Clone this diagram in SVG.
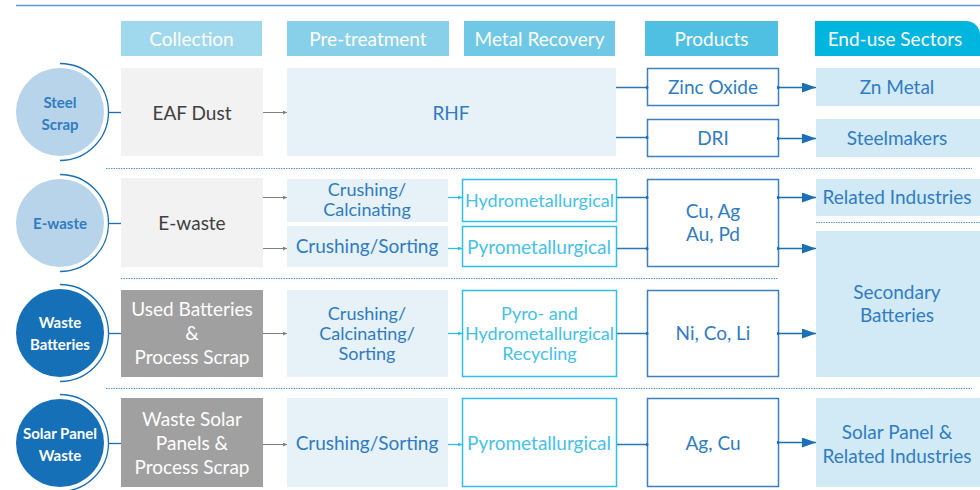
<svg xmlns="http://www.w3.org/2000/svg" width="980" height="490" viewBox="0 0 980 490">
  <defs>
    <style>
      text { font-family: Lato, "Noto Sans", "Liberation Sans", sans-serif; text-anchor: middle; }
      .hdr { fill: #ffffff; font-size: 19px; }
      .body { font-size: 19px; }
      .tight { font-size: 18px; }
      .dark { fill: #404040; }
      .white { fill: #ffffff; }
      .blue { fill: #2f7cc2; }
      .cyan { fill: #45c1ea; }
      .circ { font-size: 15px; font-weight: bold; }
      .sep { stroke: #5b9bd5; stroke-width: 1; stroke-dasharray: 1.5 1; fill: none; }
      .grey-box { fill: #f2f2f2; }
      .mid-box { fill: #a0a0a0; }
      .pale-box { fill: #e6f1f8; }
      .end-box { fill: #d2e9f6; }
      .metal-box { fill: #ffffff; stroke: #2ec0ea; stroke-width: 1.5; }
      .prod-box { fill: #ffffff; stroke: #3a7fc2; stroke-width: 1.5; }
      .arc { fill: none; stroke: #1a6fb5; stroke-width: 1.3; }
      .c-light { fill: #b8d4ea; }
      .c-dark { fill: #1570b8; }
      .ln-grey { stroke: #808080; stroke-width: 1; marker-end: url(#tipGrey); }
      .ln-cyan { stroke: #2fbce6; stroke-width: 1.3; marker-end: url(#tipCyan); }
      .ln-blue { stroke: #2e75b6; stroke-width: 1.5; marker-end: url(#dotBlue); }
      .ln-out { stroke: #1a6fb5; stroke-width: 1.5; marker-start: url(#dotBlue); marker-end: url(#headBlue); }
      .ln-stub { stroke: #1a6fb5; stroke-width: 1.3; }
    </style>
    <marker id="tipGrey" viewBox="0 0 4 4" refX="4" refY="2" markerWidth="4" markerHeight="4" markerUnits="userSpaceOnUse" orient="auto">
      <path d="M0,0 L4,2 L0,4 Z" fill="#808080"/>
    </marker>
    <marker id="tipCyan" viewBox="0 0 4 4" refX="4" refY="2" markerWidth="4" markerHeight="4" markerUnits="userSpaceOnUse" orient="auto">
      <path d="M0,0 L4,2 L0,4 Z" fill="#2fbce6"/>
    </marker>
    <marker id="dotBlue" viewBox="0 0 4 4" refX="2" refY="2" markerWidth="3" markerHeight="3" markerUnits="userSpaceOnUse">
      <circle cx="2" cy="2" r="2" fill="#1a6fb5"/>
    </marker>
    <marker id="headBlue" viewBox="0 0 14 10" refX="14" refY="5" markerWidth="14" markerHeight="10" markerUnits="userSpaceOnUse" orient="auto">
      <path d="M0,0 L14,5 L0,10 Z" fill="#1a6fb5"/>
    </marker>
  </defs>

  <!-- top rule -->
  <line x1="16" y1="5.5" x2="980" y2="5.5" stroke="#5b9bd5" stroke-width="1.5"/>

  <!-- column headers -->
  <g id="headers">
    <rect x="121" y="21" width="141" height="35" fill="#a0d8ed"/>
    <text class="hdr" x="191.5" y="45.5">Collection</text>
    <rect x="287" y="21" width="162" height="35" fill="#88d0e9"/>
    <text class="hdr" x="368" y="45.5">Pre-treatment</text>
    <rect x="464" y="21" width="151" height="35" fill="#6ec8e6"/>
    <text class="hdr" x="539.5" y="45.5">Metal Recovery</text>
    <rect x="645" y="21" width="133" height="35" fill="#4fc0e2"/>
    <text class="hdr" x="711.5" y="45.5">Products</text>
    <path d="M815,21 H966 A14,14 0 0 1 980,35 V56 H815 Z" fill="#00b5de"/>
    <text class="hdr" x="895" y="45.5">End-use Sectors</text>
  </g>

  <!-- row separators -->
  <g id="separators">
    <line class="sep" x1="106" y1="168.5" x2="972" y2="168.5"/>
    <line class="sep" x1="121" y1="278.5" x2="778" y2="278.5"/>
    <line class="sep" x1="816" y1="222.5" x2="980" y2="222.5"/>
    <line class="sep" x1="106" y1="388.5" x2="972" y2="388.5"/>
  </g>

  <!-- source circles -->
  <g id="src-steel">
    <path class="arc" d="M60,63.5 A48.5,48.5 0 0 1 60,160.5"/>
    <circle class="c-light" cx="60" cy="112" r="44"/>
    <text class="circ blue" x="60" y="108">Steel</text>
    <text class="circ blue" x="60" y="130">Scrap</text>
  </g>
  <g id="src-ewaste">
    <path class="arc" d="M60,174.5 A48.5,48.5 0 0 1 60,271.5"/>
    <circle class="c-light" cx="60" cy="223" r="44"/>
    <text class="circ blue" x="60" y="229">E-waste</text>
  </g>
  <g id="src-batteries">
    <path class="arc" d="M60,284.5 A48.5,48.5 0 0 1 60,381.5"/>
    <circle class="c-dark" cx="60" cy="333" r="44"/>
    <text class="circ white" x="60" y="328">Waste</text>
    <text class="circ white" x="60" y="350">Batteries</text>
  </g>
  <g id="src-solar">
    <path class="arc" d="M60,394.5 A48.5,48.5 0 0 1 60,491.5"/>
    <circle class="c-dark" cx="60" cy="443" r="44"/>
    <text class="circ white" x="60" y="439">Solar Panel</text>
    <text class="circ white" x="60" y="461">Waste</text>
  </g>

  <!-- row 1: steel scrap -->
  <g id="eaf-dust">
    <rect class="grey-box" x="121" y="68" width="142" height="88"/>
    <text class="body dark" x="192" y="120">EAF Dust</text>
  </g>
  <g id="rhf">
    <rect class="pale-box" x="287" y="68" width="329" height="88"/>
    <text class="body blue" x="451" y="120">RHF</text>
  </g>
  <g id="zinc-oxide">
    <rect class="prod-box" x="647.5" y="68.5" width="131" height="37"/>
    <text class="body blue" x="713" y="94">Zinc Oxide</text>
  </g>
  <g id="dri">
    <rect class="prod-box" x="647.5" y="119.5" width="131" height="37"/>
    <text class="body blue" x="713" y="145">DRI</text>
  </g>
  <g id="zn-metal">
    <rect class="end-box" x="816" y="68" width="164" height="38"/>
    <text class="body blue" x="897" y="94">Zn Metal</text>
  </g>
  <g id="steelmakers">
    <rect class="end-box" x="816" y="119" width="164" height="38"/>
    <text class="body blue" x="897" y="145">Steelmakers</text>
  </g>

  <!-- row 2: e-waste -->
  <g id="ewaste">
    <rect class="grey-box" x="121" y="178" width="142" height="89"/>
    <text class="body dark" x="192" y="230">E-waste</text>
  </g>
  <g id="crush-calc">
    <rect class="pale-box" x="287" y="179" width="161" height="43"/>
    <text class="tight blue" x="367" y="196">Crushing/</text>
    <text class="tight blue" x="367" y="216">Calcinating</text>
  </g>
  <g id="crush-sort-1">
    <rect class="pale-box" x="287" y="226" width="161" height="41"/>
    <text class="body blue" x="367" y="253">Crushing/Sorting</text>
  </g>
  <g id="hydro">
    <rect class="metal-box" x="462.5" y="179.5" width="154" height="42"/>
    <text class="tight cyan" x="539.5" y="207">Hydrometallurgical</text>
  </g>
  <g id="pyro-1">
    <rect class="metal-box" x="462.5" y="226.5" width="154" height="40"/>
    <text class="body cyan" x="539" y="254">Pyrometallurgical</text>
  </g>
  <g id="cu-ag">
    <rect class="prod-box" x="647.5" y="179.5" width="131" height="87"/>
    <text class="body blue" x="713" y="218">Cu, Ag</text>
    <text class="body blue" x="713" y="241">Au, Pd</text>
  </g>
  <g id="related-1">
    <rect class="end-box" x="816" y="179" width="164" height="37"/>
    <text class="body blue" x="897" y="204">Related Industries</text>
  </g>
  <g id="secondary">
    <rect class="end-box" x="816" y="231" width="164" height="146"/>
    <text class="body blue" x="897" y="299">Secondary</text>
    <text class="body blue" x="897" y="322">Batteries</text>
  </g>

  <!-- row 3: waste batteries -->
  <g id="used-batteries">
    <rect class="mid-box" x="121" y="290" width="142" height="87"/>
    <text class="body white" x="192" y="316">Used Batteries</text>
    <text class="body white" x="192" y="340">&amp;</text>
    <text class="body white" x="192" y="364">Process Scrap</text>
  </g>
  <g id="crush-calc-sort">
    <rect class="pale-box" x="287" y="290" width="161" height="87"/>
    <text class="tight blue" x="367" y="320">Crushing/</text>
    <text class="tight blue" x="367" y="340">Calcinating/</text>
    <text class="tight blue" x="367" y="360">Sorting</text>
  </g>
  <g id="pyro-hydro">
    <rect class="metal-box" x="462.5" y="290.5" width="154" height="86"/>
    <text class="tight cyan" x="539.5" y="320">Pyro- and</text>
    <text class="tight cyan" x="539.5" y="340">Hydrometallurgical</text>
    <text class="tight cyan" x="539.5" y="360">Recycling</text>
  </g>
  <g id="ni-co-li">
    <rect class="prod-box" x="647.5" y="290.5" width="131" height="86"/>
    <text class="body blue" x="713" y="340">Ni, Co, Li</text>
  </g>

  <!-- row 4: solar panel waste -->
  <g id="solar-panels">
    <rect class="mid-box" x="121" y="398" width="142" height="89"/>
    <text class="body white" x="192" y="426">Waste Solar</text>
    <text class="body white" x="192" y="450">Panels &amp;</text>
    <text class="body white" x="192" y="474">Process Scrap</text>
  </g>
  <g id="crush-sort-2">
    <rect class="pale-box" x="287" y="398" width="161" height="89"/>
    <text class="body blue" x="367" y="450">Crushing/Sorting</text>
  </g>
  <g id="pyro-2">
    <rect class="metal-box" x="462.5" y="398.5" width="154" height="88"/>
    <text class="body cyan" x="539" y="450">Pyrometallurgical</text>
  </g>
  <g id="ag-cu">
    <rect class="prod-box" x="647.5" y="398.5" width="131" height="88"/>
    <text class="body blue" x="713" y="450">Ag, Cu</text>
  </g>
  <g id="solar-related">
    <rect class="end-box" x="816" y="398" width="164" height="89"/>
    <text class="body blue" x="897" y="439">Solar Panel &amp;</text>
    <text class="body blue" x="897" y="463">Related Industries</text>
  </g>

  <!-- connectors -->
  <g id="connectors">
    <!-- circle stubs -->
    <line class="ln-stub" x1="108" y1="112.5" x2="121" y2="112.5"/>
    <line class="ln-stub" x1="108" y1="223.5" x2="121" y2="223.5"/>
    <line class="ln-stub" x1="108" y1="333.5" x2="121" y2="333.5"/>
    <line class="ln-stub" x1="108" y1="443.5" x2="121" y2="443.5"/>
    <!-- collection to pre-treatment -->
    <line class="ln-grey" x1="263" y1="112.5" x2="287" y2="112.5"/>
    <line class="ln-grey" x1="263" y1="197.5" x2="287" y2="197.5"/>
    <line class="ln-grey" x1="263" y1="248.5" x2="287" y2="248.5"/>
    <line class="ln-grey" x1="263" y1="333.5" x2="287" y2="333.5"/>
    <line class="ln-grey" x1="263" y1="444.5" x2="287" y2="444.5"/>
    <!-- pre-treatment to metal recovery -->
    <line class="ln-cyan" x1="448" y1="197.5" x2="462" y2="197.5"/>
    <line class="ln-cyan" x1="448" y1="248.5" x2="462" y2="248.5"/>
    <line class="ln-cyan" x1="448" y1="333.5" x2="462" y2="333.5"/>
    <line class="ln-cyan" x1="448" y1="444.5" x2="462" y2="444.5"/>
    <!-- metal recovery to products -->
    <line class="ln-blue" x1="616" y1="87.5" x2="647" y2="87.5"/>
    <line class="ln-blue" x1="616" y1="137.5" x2="647" y2="137.5"/>
    <line class="ln-blue" x1="617" y1="197.5" x2="647" y2="197.5"/>
    <line class="ln-blue" x1="617" y1="248.5" x2="647" y2="248.5"/>
    <line class="ln-blue" x1="617" y1="333.5" x2="647" y2="333.5"/>
    <line class="ln-blue" x1="617" y1="444.5" x2="647" y2="444.5"/>
    <!-- products to end-use sectors -->
    <line class="ln-out" x1="778" y1="87.5" x2="816" y2="87.5"/>
    <line class="ln-out" x1="778" y1="138.5" x2="816" y2="138.5"/>
    <line class="ln-out" x1="778" y1="197.5" x2="816" y2="197.5"/>
    <line class="ln-out" x1="778" y1="248.5" x2="816" y2="248.5"/>
    <line class="ln-out" x1="778" y1="333.5" x2="816" y2="333.5"/>
    <line class="ln-out" x1="778" y1="442.5" x2="816" y2="442.5"/>
  </g>
</svg>
